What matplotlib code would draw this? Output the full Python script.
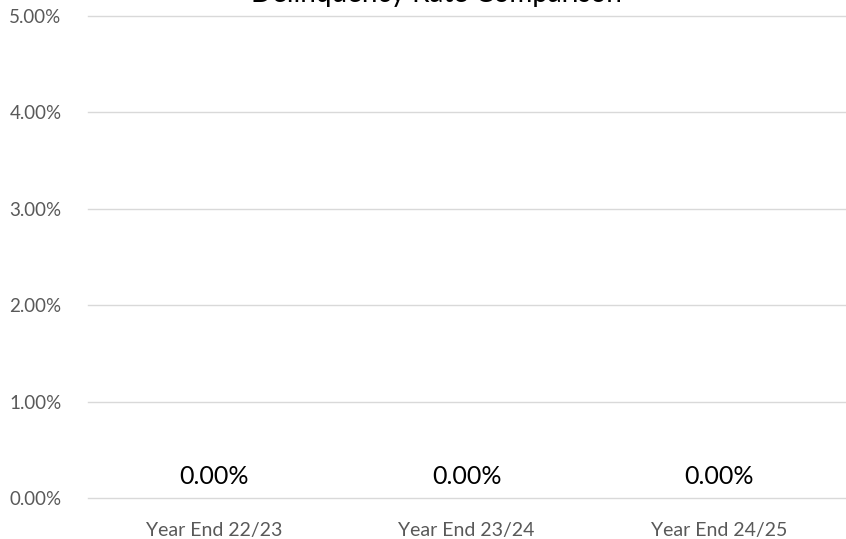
import matplotlib
matplotlib.use("Agg")
import matplotlib.pyplot as plt
from matplotlib.ticker import FuncFormatter, MultipleLocator

plt.rcParams['font.family'] = ['Lato', 'DejaVu Sans']

# chart data
categories = ['Year End 22/23', 'Year End 23/24', 'Year End 24/25']
rates = [0.0, 0.0, 0.0]
title = 'Delinquency Rate Comparison'

fig = plt.figure(figsize=(8.46, 5.39), dpi=100)
ax = fig.add_axes([88 / 846, 1 - 498 / 539, 757 / 846, 482 / 539])

x = range(len(categories))
bars = ax.bar(x, rates, width=0.6, color='#4472c4')
for xi, v in zip(x, rates):
    ax.annotate(f'{v:.2%}', (xi, v), xytext=(0, 7), textcoords='offset points',
                ha='center', va='bottom', fontsize=18, color='black')

ax.set_xlim(-0.5, len(categories) - 0.5)
ax.set_ylim(0, 0.05)
ax.yaxis.set_major_locator(MultipleLocator(0.01))
ax.yaxis.set_major_formatter(FuncFormatter(lambda v, p: f'{v:.2%}'))
ax.set_xticks(list(x))
ax.set_xticklabels(categories)
ax.tick_params(axis='x', length=0, labelsize=14, colors='#595959', pad=17)
ax.tick_params(axis='y', length=0, labelsize=13.5, colors='#595959', pad=19)
ax.grid(axis='y', color='#d9d9d9', linewidth=1)
for gl in ax.get_ygridlines():
    gl.set_clip_on(False)
ax.set_axisbelow(True)
for s in ax.spines.values():
    s.set_visible(False)

fig.text(436 / 846, 1 - 2 / 539, title, ha='center', va='baseline', fontsize=20, color='black')

fig.savefig('out.png', dpi=100)
